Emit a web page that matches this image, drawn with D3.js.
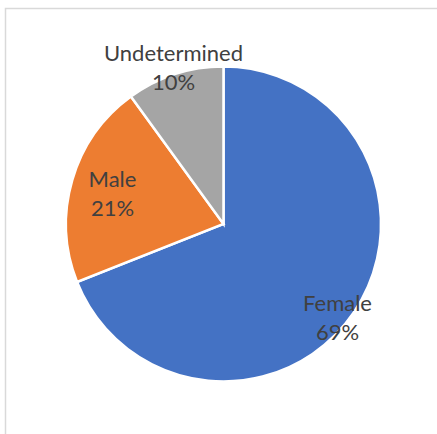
<!DOCTYPE html>
<html><head><meta charset="utf-8">
<script src="https://cdn.jsdelivr.net/npm/d3@7"></script>
<style>html,body{margin:0;padding:0;background:#fff;}svg{display:block;}</style>
</head><body>
<script>
const categories = ["Female", "Male", "Undetermined"];
const values = [69, 21, 10];
const labels = ["69%", "21%", "10%"];
const colors = ["#4472C4", "#ED7D31", "#A5A5A5"];

const W = 437, H = 434;
const cx = 223.5, cy = 224, R = 157.5;
const svg = d3.select("body").append("svg").attr("width", W).attr("height", H);

svg.append("rect").attr("x", 5.5).attr("y", 8.5).attr("width", 460).attr("height", 460)
  .attr("fill", "#fff").attr("stroke", "#d9d9d9").attr("stroke-width", 1.5);

const data = categories.map((c, i) => ({cat: c, value: values[i], label: labels[i], color: colors[i]}));
const pie = d3.pie().value(d => d.value).sort(null);
const arcs = pie(data);
const arc = d3.arc().innerRadius(0).outerRadius(R);
const g = svg.append("g").attr("transform", `translate(${cx},${cy})`);
g.selectAll("path").data(arcs).join("path")
  .attr("d", arc).attr("fill", d => d.data.color)
  .attr("stroke", "#fff").attr("stroke-width", 2.5).attr("stroke-linejoin", "miter");

// label anchor positions (name baseline); percentage one line below
const labelPos = {Female: [337.5, 311], Male: [112.5, 187], Undetermined: [173.5, 61]};
const lg = svg.append("g").attr("font-family", "Lato, 'Open Sans', sans-serif")
  .attr("font-size", 22).attr("fill", "#404040").attr("text-anchor", "middle");
arcs.forEach(a => {
  const p = labelPos[a.data.cat];
  lg.append("text").attr("x", p[0]).attr("y", p[1]).text(a.data.cat);
  lg.append("text").attr("x", p[0]).attr("y", p[1] + 28.5).text(a.data.label);
});
</script>
</body></html>
